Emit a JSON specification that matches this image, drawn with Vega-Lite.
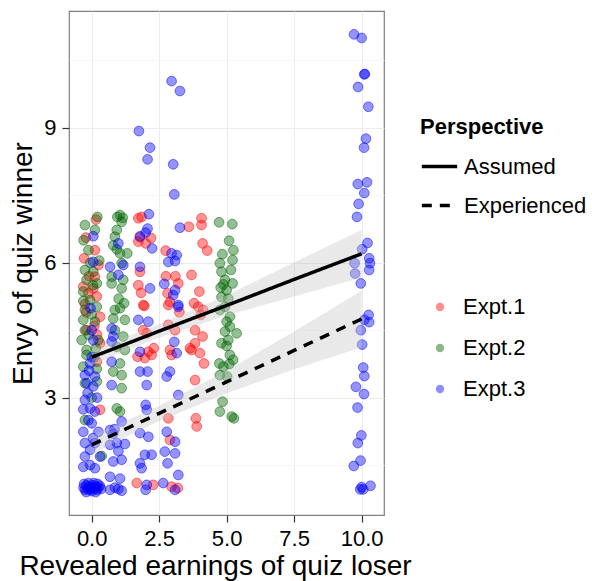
{
  "$schema": "https://vega.github.io/schema/vega-lite/v6.json",
  "width": 315,
  "height": 504,
  "autosize": {"type": "none"},
  "padding": {"left": 69, "top": 11, "right": 208, "bottom": 66},
  "background": "white",
  "config": {
    "font": "Liberation Sans",
    "view": {"stroke": "#7f7f7f", "strokeWidth": 1.2},
    "axis": {"domain": false, "labelFontSize": 22, "titleFontWeight": "normal", "labelColor": "#000", "titleColor": "#000", "tickSize": 7, "tickWidth": 1.2}
  },
  "datasets": {
    "pts": [
      {"x":0.16,"y":6.96,"e":"Expt.1"},{"x":-0.21,"y":6.56,"e":"Expt.1"},{"x":0.12,"y":6.28,"e":"Expt.1"},{"x":0.25,"y":5.95,"e":"Expt.1"},{"x":0.12,"y":5.69,"e":"Expt.1"},{"x":-0.31,"y":5.47,"e":"Expt.1"},{"x":0.06,"y":5.43,"e":"Expt.1"},{"x":-0.12,"y":5.32,"e":"Expt.1"},{"x":0.19,"y":5.25,"e":"Expt.1"},{"x":-0.25,"y":5.08,"e":"Expt.1"},{"x":0.31,"y":4.8,"e":"Expt.1"},{"x":-0.19,"y":4.5,"e":"Expt.1"},{"x":0.31,"y":4.21,"e":"Expt.1"},{"x":0.19,"y":3.8,"e":"Expt.1"},{"x":0.31,"y":2.73,"e":"Expt.1"},{"x":-0.2,"y":4.9,"e":"Expt.1"},{"x":0.1,"y":4.6,"e":"Expt.1"},{"x":-0.1,"y":5.7,"e":"Expt.1"},{"x":0.2,"y":4.4,"e":"Expt.1"},{"x":-0.28,"y":6.1,"e":"Expt.1"},
      {"x":1.73,"y":6.99,"e":"Expt.1"},{"x":1.85,"y":7.02,"e":"Expt.1"},{"x":1.73,"y":6.47,"e":"Expt.1"},{"x":2.0,"y":6.43,"e":"Expt.1"},{"x":1.79,"y":6.57,"e":"Expt.1"},{"x":1.79,"y":5.8,"e":"Expt.1"},{"x":1.73,"y":5.5,"e":"Expt.1"},{"x":1.83,"y":5.33,"e":"Expt.1"},{"x":1.91,"y":5.06,"e":"Expt.1"},{"x":1.95,"y":5.04,"e":"Expt.1"},{"x":1.91,"y":4.5,"e":"Expt.1"},{"x":2.04,"y":4.43,"e":"Expt.1"},{"x":1.7,"y":3.91,"e":"Expt.1"},{"x":2.1,"y":4.02,"e":"Expt.1"},{"x":2.22,"y":3.95,"e":"Expt.1"},{"x":1.97,"y":3.88,"e":"Expt.1"},{"x":1.67,"y":1.1,"e":"Expt.1"},{"x":2.28,"y":1.06,"e":"Expt.1"},{"x":2.2,"y":6.55,"e":"Expt.1"},{"x":2.3,"y":4.1,"e":"Expt.1"},
      {"x":2.74,"y":6.27,"e":"Expt.1"},{"x":3.21,"y":5.54,"e":"Expt.1"},{"x":2.81,"y":5.32,"e":"Expt.1"},{"x":2.9,"y":5.13,"e":"Expt.1"},{"x":2.84,"y":5.06,"e":"Expt.1"},{"x":2.84,"y":4.62,"e":"Expt.1"},{"x":3.09,"y":4.5,"e":"Expt.1"},{"x":2.9,"y":4.06,"e":"Expt.1"},{"x":2.96,"y":3.95,"e":"Expt.1"},{"x":2.84,"y":2.54,"e":"Expt.1"},{"x":2.9,"y":2.06,"e":"Expt.1"},{"x":2.96,"y":1.02,"e":"Expt.1"},{"x":3.19,"y":0.99,"e":"Expt.1"},{"x":3.1,"y":5.7,"e":"Expt.1"},{"x":3.25,"y":4.9,"e":"Expt.1"},{"x":2.75,"y":5.7,"e":"Expt.1"},
      {"x":3.64,"y":4.1,"e":"Expt.1"},{"x":4.07,"y":6.99,"e":"Expt.1"},{"x":4.07,"y":6.84,"e":"Expt.1"},{"x":4.11,"y":6.43,"e":"Expt.1"},{"x":4.28,"y":6.27,"e":"Expt.1"},{"x":3.7,"y":5.73,"e":"Expt.1"},{"x":3.99,"y":5.36,"e":"Expt.1"},{"x":3.79,"y":5.1,"e":"Expt.1"},{"x":3.95,"y":5.02,"e":"Expt.1"},{"x":4.13,"y":4.95,"e":"Expt.1"},{"x":4.04,"y":4.84,"e":"Expt.1"},{"x":3.83,"y":4.5,"e":"Expt.1"},{"x":3.83,"y":4.21,"e":"Expt.1"},{"x":4.11,"y":4.36,"e":"Expt.1"},{"x":3.7,"y":4.06,"e":"Expt.1"},{"x":4.01,"y":3.99,"e":"Expt.1"},{"x":4.16,"y":3.76,"e":"Expt.1"},{"x":3.83,"y":3.39,"e":"Expt.1"},{"x":3.86,"y":2.54,"e":"Expt.1"},{"x":3.89,"y":2.36,"e":"Expt.1"},{"x":3.6,"y":6.8,"e":"Expt.1"},
      {"x":0.21,"y":7.02,"e":"Expt.2"},{"x":-0.25,"y":6.84,"e":"Expt.2"},{"x":0.12,"y":6.73,"e":"Expt.2"},{"x":-0.12,"y":6.28,"e":"Expt.2"},{"x":-0.25,"y":5.84,"e":"Expt.2"},{"x":0.06,"y":5.8,"e":"Expt.2"},{"x":-0.19,"y":5.62,"e":"Expt.2"},{"x":0.19,"y":5.54,"e":"Expt.2"},{"x":-0.31,"y":5.36,"e":"Expt.2"},{"x":-0.06,"y":5.17,"e":"Expt.2"},{"x":-0.25,"y":4.95,"e":"Expt.2"},{"x":0.19,"y":5.02,"e":"Expt.2"},{"x":-0.31,"y":4.73,"e":"Expt.2"},{"x":0.12,"y":4.69,"e":"Expt.2"},{"x":-0.25,"y":4.5,"e":"Expt.2"},{"x":-0.37,"y":4.28,"e":"Expt.2"},{"x":0.25,"y":4.28,"e":"Expt.2"},{"x":-0.19,"y":4.06,"e":"Expt.2"},{"x":-0.31,"y":5.15,"e":"Expt.2"},{"x":-0.31,"y":3.69,"e":"Expt.2"},{"x":0.19,"y":3.64,"e":"Expt.2"},{"x":-0.25,"y":3.32,"e":"Expt.2"},{"x":0.19,"y":3.36,"e":"Expt.2"},{"x":-0.25,"y":2.5,"e":"Expt.2"},{"x":0.37,"y":1.7,"e":"Expt.2"},{"x":-0.19,"y":3.95,"e":"Expt.2"},{"x":0.0,"y":4.85,"e":"Expt.2"},{"x":0.05,"y":5.5,"e":"Expt.2"},{"x":-0.1,"y":4.4,"e":"Expt.2"},{"x":0.1,"y":3.9,"e":"Expt.2"},{"x":-0.3,"y":6.5,"e":"Expt.2"},{"x":0.28,"y":6.05,"e":"Expt.2"},{"x":-0.05,"y":6.0,"e":"Expt.2"},{"x":0.0,"y":3.0,"e":"Expt.2"},{"x":0.15,"y":4.1,"e":"Expt.2"},
      {"x":1.05,"y":7.06,"e":"Expt.2"},{"x":1.11,"y":6.91,"e":"Expt.2"},{"x":0.93,"y":6.73,"e":"Expt.2"},{"x":0.86,"y":6.58,"e":"Expt.2"},{"x":0.8,"y":6.39,"e":"Expt.2"},{"x":1.05,"y":6.21,"e":"Expt.2"},{"x":0.93,"y":6.3,"e":"Expt.2"},{"x":1.32,"y":6.21,"e":"Expt.2"},{"x":1.11,"y":5.99,"e":"Expt.2"},{"x":0.74,"y":5.69,"e":"Expt.2"},{"x":1.17,"y":5.62,"e":"Expt.2"},{"x":0.74,"y":5.54,"e":"Expt.2"},{"x":1.11,"y":5.43,"e":"Expt.2"},{"x":0.86,"y":4.95,"e":"Expt.2"},{"x":1.05,"y":4.99,"e":"Expt.2"},{"x":0.8,"y":4.76,"e":"Expt.2"},{"x":1.23,"y":4.73,"e":"Expt.2"},{"x":0.86,"y":4.5,"e":"Expt.2"},{"x":1.17,"y":4.36,"e":"Expt.2"},{"x":0.93,"y":4.13,"e":"Expt.2"},{"x":1.23,"y":4.06,"e":"Expt.2"},{"x":1.05,"y":3.76,"e":"Expt.2"},{"x":0.8,"y":3.58,"e":"Expt.2"},{"x":1.11,"y":3.5,"e":"Expt.2"},{"x":1.11,"y":3.21,"e":"Expt.2"},{"x":0.93,"y":2.76,"e":"Expt.2"},{"x":1.05,"y":2.69,"e":"Expt.2"},{"x":1.15,"y":7.0,"e":"Expt.2"},{"x":1.0,"y":5.2,"e":"Expt.2"},{"x":1.2,"y":5.1,"e":"Expt.2"},{"x":0.95,"y":7.02,"e":"Expt.2"},
      {"x":4.72,"y":6.9,"e":"Expt.2"},{"x":5.21,"y":6.86,"e":"Expt.2"},{"x":5.09,"y":6.49,"e":"Expt.2"},{"x":5.25,"y":6.28,"e":"Expt.2"},{"x":4.84,"y":6.19,"e":"Expt.2"},{"x":5.22,"y":6.06,"e":"Expt.2"},{"x":4.75,"y":5.99,"e":"Expt.2"},{"x":5.16,"y":5.84,"e":"Expt.2"},{"x":4.81,"y":5.8,"e":"Expt.2"},{"x":4.94,"y":5.62,"e":"Expt.2"},{"x":5.22,"y":5.54,"e":"Expt.2"},{"x":4.78,"y":5.45,"e":"Expt.2"},{"x":5.0,"y":5.39,"e":"Expt.2"},{"x":4.81,"y":5.24,"e":"Expt.2"},{"x":4.94,"y":5.02,"e":"Expt.2"},{"x":4.75,"y":4.95,"e":"Expt.2"},{"x":5.12,"y":4.8,"e":"Expt.2"},{"x":5.0,"y":4.69,"e":"Expt.2"},{"x":5.12,"y":4.58,"e":"Expt.2"},{"x":5.37,"y":4.43,"e":"Expt.2"},{"x":4.94,"y":4.47,"e":"Expt.2"},{"x":5.06,"y":4.28,"e":"Expt.2"},{"x":4.81,"y":4.21,"e":"Expt.2"},{"x":5.12,"y":3.95,"e":"Expt.2"},{"x":4.73,"y":3.76,"e":"Expt.2"},{"x":5.1,"y":3.75,"e":"Expt.2"},{"x":4.88,"y":3.69,"e":"Expt.2"},{"x":4.75,"y":3.5,"e":"Expt.2"},{"x":5.02,"y":3.47,"e":"Expt.2"},{"x":4.85,"y":2.91,"e":"Expt.2"},{"x":4.75,"y":2.69,"e":"Expt.2"},{"x":5.19,"y":2.58,"e":"Expt.2"},{"x":5.27,"y":2.54,"e":"Expt.2"},{"x":4.88,"y":5.52,"e":"Expt.2"},{"x":5.06,"y":5.2,"e":"Expt.2"},{"x":5.0,"y":4.15,"e":"Expt.2"},{"x":5.24,"y":3.84,"e":"Expt.2"},
      {"x":0.06,"y":6.59,"e":"Expt.3"},{"x":0.06,"y":6.02,"e":"Expt.3"},{"x":-0.04,"y":4.99,"e":"Expt.3"},{"x":0.0,"y":4.5,"e":"Expt.3"},{"x":0.06,"y":4.28,"e":"Expt.3"},{"x":-0.06,"y":3.76,"e":"Expt.3"},{"x":-0.25,"y":3.5,"e":"Expt.3"},{"x":0.12,"y":3.47,"e":"Expt.3"},{"x":-0.19,"y":3.32,"e":"Expt.3"},{"x":0.06,"y":3.25,"e":"Expt.3"},{"x":-0.25,"y":2.95,"e":"Expt.3"},{"x":-0.06,"y":2.76,"e":"Expt.3"},{"x":-0.31,"y":2.74,"e":"Expt.3"},{"x":0.12,"y":2.69,"e":"Expt.3"},{"x":-0.12,"y":2.5,"e":"Expt.3"},{"x":0.0,"y":2.43,"e":"Expt.3"},{"x":-0.31,"y":2.24,"e":"Expt.3"},{"x":0.25,"y":2.24,"e":"Expt.3"},{"x":-0.25,"y":1.99,"e":"Expt.3"},{"x":0.12,"y":1.99,"e":"Expt.3"},{"x":-0.06,"y":1.84,"e":"Expt.3"},{"x":-0.25,"y":1.69,"e":"Expt.3"},{"x":0.31,"y":1.69,"e":"Expt.3"},{"x":-0.06,"y":1.5,"e":"Expt.3"},{"x":-0.31,"y":1.46,"e":"Expt.3"},{"x":0.12,"y":1.43,"e":"Expt.3"},{"x":0.0,"y":3.9,"e":"Expt.3"},{"x":-0.15,"y":3.1,"e":"Expt.3"},{"x":0.2,"y":3.0,"e":"Expt.3"},{"x":0.05,"y":2.1,"e":"Expt.3"},{"x":-0.1,"y":3.6,"e":"Expt.3"},
      {"x":-0.3,"y":1.0,"e":"Expt.3"},{"x":-0.25,"y":0.95,"e":"Expt.3"},{"x":-0.2,"y":1.05,"e":"Expt.3"},{"x":-0.15,"y":0.97,"e":"Expt.3"},{"x":-0.1,"y":1.02,"e":"Expt.3"},{"x":-0.05,"y":0.95,"e":"Expt.3"},{"x":0.0,"y":1.0,"e":"Expt.3"},{"x":0.05,"y":1.05,"e":"Expt.3"},{"x":0.1,"y":0.97,"e":"Expt.3"},{"x":0.15,"y":1.02,"e":"Expt.3"},{"x":0.2,"y":0.95,"e":"Expt.3"},{"x":0.25,"y":1.0,"e":"Expt.3"},{"x":0.3,"y":1.04,"e":"Expt.3"},{"x":-0.28,"y":1.08,"e":"Expt.3"},{"x":-0.12,"y":1.1,"e":"Expt.3"},{"x":0.08,"y":1.1,"e":"Expt.3"},{"x":0.22,"y":1.08,"e":"Expt.3"},{"x":0.35,"y":0.97,"e":"Expt.3"},{"x":-0.2,"y":0.9,"e":"Expt.3"},{"x":0.0,"y":0.92,"e":"Expt.3"},{"x":0.15,"y":0.9,"e":"Expt.3"},
      {"x":0.99,"y":6.43,"e":"Expt.3"},{"x":0.68,"y":5.91,"e":"Expt.3"},{"x":1.17,"y":5.95,"e":"Expt.3"},{"x":0.99,"y":5.73,"e":"Expt.3"},{"x":0.74,"y":4.54,"e":"Expt.3"},{"x":0.8,"y":4.36,"e":"Expt.3"},{"x":0.74,"y":4.25,"e":"Expt.3"},{"x":0.74,"y":3.8,"e":"Expt.3"},{"x":0.74,"y":3.28,"e":"Expt.3"},{"x":1.11,"y":2.47,"e":"Expt.3"},{"x":0.68,"y":2.28,"e":"Expt.3"},{"x":0.8,"y":2.2,"e":"Expt.3"},{"x":0.93,"y":1.99,"e":"Expt.3"},{"x":0.68,"y":1.95,"e":"Expt.3"},{"x":1.23,"y":1.97,"e":"Expt.3"},{"x":0.99,"y":1.81,"e":"Expt.3"},{"x":1.11,"y":1.62,"e":"Expt.3"},{"x":0.8,"y":1.58,"e":"Expt.3"},{"x":0.68,"y":1.24,"e":"Expt.3"},{"x":1.05,"y":1.2,"e":"Expt.3"},{"x":0.68,"y":0.95,"e":"Expt.3"},{"x":0.86,"y":1.0,"e":"Expt.3"},{"x":1.11,"y":0.93,"e":"Expt.3"},{"x":0.99,"y":0.97,"e":"Expt.3"},{"x":0.85,"y":2.3,"e":"Expt.3"},
      {"x":1.75,"y":8.93,"e":"Expt.3"},{"x":2.16,"y":8.56,"e":"Expt.3"},{"x":2.07,"y":8.3,"e":"Expt.3"},{"x":3.02,"y":8.19,"e":"Expt.3"},{"x":3.06,"y":7.52,"e":"Expt.3"},{"x":3.27,"y":6.78,"e":"Expt.3"},{"x":2.12,"y":7.08,"e":"Expt.3"},{"x":2.07,"y":6.76,"e":"Expt.3"},{"x":2.0,"y":6.67,"e":"Expt.3"},{"x":1.79,"y":6.59,"e":"Expt.3"},{"x":2.24,"y":6.32,"e":"Expt.3"},{"x":1.79,"y":5.91,"e":"Expt.3"},{"x":2.16,"y":5.43,"e":"Expt.3"},{"x":2.96,"y":6.21,"e":"Expt.3"},{"x":3.15,"y":6.17,"e":"Expt.3"},{"x":2.84,"y":6.02,"e":"Expt.3"},{"x":3.09,"y":6.04,"e":"Expt.3"},{"x":2.69,"y":5.53,"e":"Expt.3"},{"x":3.09,"y":5.39,"e":"Expt.3"},{"x":3.02,"y":5.28,"e":"Expt.3"},{"x":3.21,"y":5.06,"e":"Expt.3"},{"x":2.96,"y":10.04,"e":"Expt.3"},{"x":3.27,"y":9.82,"e":"Expt.3"},
      {"x":1.73,"y":4.73,"e":"Expt.3"},{"x":2.1,"y":4.69,"e":"Expt.3"},{"x":3.06,"y":4.24,"e":"Expt.3"},{"x":1.79,"y":4.02,"e":"Expt.3"},{"x":3.15,"y":3.99,"e":"Expt.3"},{"x":1.79,"y":3.58,"e":"Expt.3"},{"x":2.07,"y":3.58,"e":"Expt.3"},{"x":2.04,"y":3.28,"e":"Expt.3"},{"x":2.9,"y":3.58,"e":"Expt.3"},{"x":2.78,"y":3.47,"e":"Expt.3"},{"x":3.21,"y":3.06,"e":"Expt.3"},{"x":2.0,"y":2.84,"e":"Expt.3"},{"x":2.04,"y":2.73,"e":"Expt.3"},{"x":1.79,"y":2.21,"e":"Expt.3"},{"x":2.1,"y":2.13,"e":"Expt.3"},{"x":2.78,"y":2.24,"e":"Expt.3"},{"x":3.09,"y":2.02,"e":"Expt.3"},{"x":2.71,"y":1.8,"e":"Expt.3"},{"x":1.97,"y":1.73,"e":"Expt.3"},{"x":1.79,"y":1.54,"e":"Expt.3"},{"x":1.85,"y":1.43,"e":"Expt.3"},{"x":2.22,"y":1.73,"e":"Expt.3"},{"x":3.09,"y":1.76,"e":"Expt.3"},{"x":2.81,"y":1.54,"e":"Expt.3"},{"x":3.21,"y":1.28,"e":"Expt.3"},{"x":2.04,"y":1.06,"e":"Expt.3"},{"x":2.0,"y":0.95,"e":"Expt.3"},{"x":2.65,"y":1.1,"e":"Expt.3"},{"x":3.09,"y":0.95,"e":"Expt.3"},{"x":3.21,"y":5.02,"e":"Expt.3"},
      {"x":9.72,"y":11.08,"e":"Expt.3"},{"x":10.0,"y":11.0,"e":"Expt.3"},{"x":10.1,"y":10.19,"e":"Expt.3"},{"x":10.12,"y":10.2,"e":"Expt.3"},{"x":9.87,"y":9.91,"e":"Expt.3"},{"x":10.25,"y":9.47,"e":"Expt.3"},{"x":10.16,"y":8.76,"e":"Expt.3"},{"x":10.09,"y":8.56,"e":"Expt.3"},{"x":9.86,"y":7.75,"e":"Expt.3"},{"x":10.2,"y":7.79,"e":"Expt.3"},{"x":10.1,"y":7.55,"e":"Expt.3"},{"x":9.89,"y":7.31,"e":"Expt.3"},{"x":9.83,"y":7.02,"e":"Expt.3"},{"x":10.22,"y":6.44,"e":"Expt.3"},{"x":10.02,"y":6.3,"e":"Expt.3"},{"x":10.28,"y":6.1,"e":"Expt.3"},{"x":10.31,"y":5.99,"e":"Expt.3"},{"x":9.74,"y":5.99,"e":"Expt.3"},{"x":9.76,"y":5.76,"e":"Expt.3"},{"x":10.28,"y":5.84,"e":"Expt.3"},{"x":9.97,"y":5.54,"e":"Expt.3"},{"x":10.26,"y":4.84,"e":"Expt.3"},{"x":10.1,"y":4.73,"e":"Expt.3"},{"x":10.28,"y":4.68,"e":"Expt.3"},{"x":9.97,"y":4.5,"e":"Expt.3"},{"x":10.02,"y":4.18,"e":"Expt.3"},{"x":10.06,"y":3.67,"e":"Expt.3"},{"x":10.1,"y":3.48,"e":"Expt.3"},{"x":9.79,"y":3.24,"e":"Expt.3"},{"x":10.09,"y":3.08,"e":"Expt.3"},{"x":9.85,"y":2.78,"e":"Expt.3"},{"x":9.99,"y":2.16,"e":"Expt.3"},{"x":9.86,"y":1.99,"e":"Expt.3"},{"x":9.96,"y":1.6,"e":"Expt.3"},{"x":9.71,"y":1.48,"e":"Expt.3"},{"x":10.0,"y":1.01,"e":"Expt.3"},{"x":10.06,"y":0.96,"e":"Expt.3"},{"x":10.33,"y":1.04,"e":"Expt.3"},{"x":9.95,"y":0.96,"e":"Expt.3"}
    ],
    "fit": [
      {"x":0,"y":3.9,"lo":3.72,"hi":4.08,"p":"Assumed"},
      {"x":1,"y":4.13,"lo":3.98,"hi":4.28,"p":"Assumed"},
      {"x":2.5,"y":4.48,"lo":4.33,"hi":4.63,"p":"Assumed"},
      {"x":5,"y":5.05,"lo":4.83,"hi":5.27,"p":"Assumed"},
      {"x":7.5,"y":5.63,"lo":5.25,"hi":6.01,"p":"Assumed"},
      {"x":10,"y":6.2,"lo":5.67,"hi":6.73,"p":"Assumed"},
      {"x":0,"y":1.95,"lo":1.73,"hi":2.17,"p":"Experienced"},
      {"x":1,"y":2.23,"lo":2.05,"hi":2.41,"p":"Experienced"},
      {"x":2.5,"y":2.65,"lo":2.48,"hi":2.82,"p":"Experienced"},
      {"x":5,"y":3.35,"lo":3.1,"hi":3.6,"p":"Experienced"},
      {"x":7.5,"y":4.05,"lo":3.63,"hi":4.47,"p":"Experienced"},
      {"x":10,"y":4.75,"lo":4.12,"hi":5.38,"p":"Experienced"}
    ]
  },
  "layer": [
    {
      "data": {"name": "pts"},
      "mark": {"type": "point", "filled": true, "size": 95, "fillOpacity": 0.42, "strokeOpacity": 0.5, "strokeWidth": 1, "shape": "circle"},
      "encoding": {
        "x": {"field": "x", "type": "quantitative", "scale": {"domain": [-0.84, 10.83], "nice": false, "zero": false},
          "axis": {"title": "Revealed earnings of quiz loser", "titleFontSize": 28, "titleX": 146, "values": [0, 1.25, 2.5, 3.75, 5, 6.25, 7.5, 8.75, 10],
            "labelExpr": "datum.value % 2.5 === 0 ? format(datum.value, '.1f') : ''",
            "gridColor": {"condition": {"test": "datum.value % 2.5 !== 0", "value": "#f7f7f7"}, "value": "#ebebeb"},
            "tickColor": {"condition": {"test": "datum.value % 2.5 !== 0", "value": "transparent"}, "value": "#333333"},
            "labelPadding": 6, "titlePadding": 3}},
        "y": {"field": "y", "type": "quantitative", "scale": {"domain": [0.39, 11.6], "nice": false, "zero": false},
          "axis": {"title": "Envy of quiz winner", "titleFontSize": 28, "values": [1.5, 3, 4.5, 6, 7.5, 9, 10.5],
            "labelExpr": "datum.value % 3 === 0 ? format(datum.value, 'd') : ''",
            "gridColor": {"condition": {"test": "datum.value % 3 !== 0", "value": "#f7f7f7"}, "value": "#ebebeb"},
            "tickColor": {"condition": {"test": "datum.value % 3 !== 0", "value": "transparent"}, "value": "#333333"},
            "labelPadding": 6, "titlePadding": 6}},
        "fill": {"field": "e", "type": "nominal", "scale": {"domain": ["Expt.1", "Expt.2", "Expt.3"], "range": ["#FF0000", "#006400", "#0000FF"]},
          "legend": {"title": null, "orient": "none", "legendX": 351, "legendY": 285, "labelFontSize": 22, "labelColor": "#000", "symbolType": "circle", "symbolSize": 70, "symbolOpacity": 0.45, "symbolStrokeWidth": 0, "rowPadding": 19, "labelOffset": 12, "symbolOffset": 9}},
        "stroke": {"field": "e", "type": "nominal", "scale": {"domain": ["Expt.1", "Expt.2", "Expt.3"], "range": ["#FF0000", "#006400", "#0000FF"]}, "legend": null}
      }
    },
    {
      "data": {"name": "fit"},
      "mark": {"type": "area", "fill": "#c4c4c4", "opacity": 0.38},
      "encoding": {
        "x": {"field": "x", "type": "quantitative"},
        "y": {"field": "lo", "type": "quantitative"},
        "y2": {"field": "hi"},
        "detail": {"field": "p", "type": "nominal"}
      }
    },
    {
      "data": {"name": "fit"},
      "mark": {"type": "line", "color": "black", "strokeWidth": 3.5},
      "encoding": {
        "x": {"field": "x", "type": "quantitative"},
        "y": {"field": "y", "type": "quantitative"},
        "strokeDash": {"field": "p", "type": "nominal", "scale": {"domain": ["Assumed", "Experienced"], "range": [[1, 0], [10, 8]]},
          "legend": {"title": "Perspective", "orient": "none", "legendX": 351, "legendY": 106, "titleFontSize": 22, "titleFontWeight": "bold", "titleColor": "#000", "labelFontSize": 22, "labelColor": "#000", "symbolType": "stroke", "symbolStrokeWidth": 3.5, "symbolSize": 1250, "symbolStrokeColor": "black", "rowPadding": 8, "labelOffset": 5, "titlePadding": 8}}
      }
    }
  ]
}
